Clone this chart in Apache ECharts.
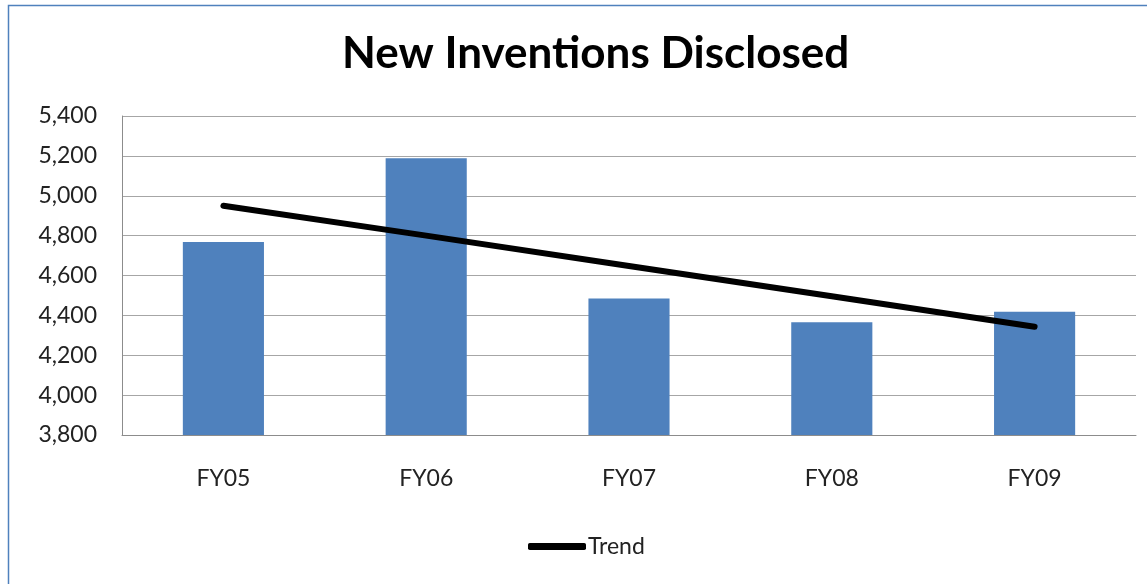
<!DOCTYPE html>
<html>
<head>
<meta charset="utf-8">
<script src="https://cdn.jsdelivr.net/npm/echarts@6/dist/echarts.min.js"></script>
<style>
  html, body { margin: 0; padding: 0; background: #fff; }
  #chart { width: 1147px; height: 584px; }
</style>
</head>
<body>
<div id="chart"></div>
<script>
// values
const categories = ['FY05', 'FY06', 'FY07', 'FY08', 'FY09'];
const disclosed = [4768, 5188, 4485, 4365, 4418];
const trend = [4950, 4800, 4648, 4496, 4343];
const yTicks = [3800, 4000, 4200, 4400, 4600, 4800, 5000, 5200, 5400];

const font = 'Lato, "Open Sans", sans-serif';

let chart = echarts.init(document.getElementById('chart'));

chart.setOption({
  animation: false,
  backgroundColor: '#fff',
  textStyle: { fontFamily: font },
  title: {
    text: 'New Inventions Disclosed',
    left: 342,
    top: 32,
    padding: 0,
    textStyle: { fontFamily: font, fontSize: 44, fontWeight: 'bold', color: '#000' }
  },
  // chart frame (blue border)
  graphic: [{
    type: 'rect',
    shape: { x: 8.5, y: 5.5, width: 1200, height: 700 },
    style: { fill: 'none', stroke: '#4f81bd', lineWidth: 1.5 },
    silent: true
  }],
  grid: { left: 122, right: 11, top: 116, bottom: 149 },
  legend: {
    data: [{ name: 'Trend', icon: 'roundRect' }],
    bottom: 21,
    left: 523,
    itemWidth: 58,
    itemHeight: 7,
    itemGap: 2,
    textStyle: { fontFamily: font, fontSize: 23, color: '#222', padding: [0, 0, 0, -3] }
  },
  xAxis: {
    type: 'category',
    data: categories,
    axisLine: { lineStyle: { color: '#8c8c8c', width: 1 } },
    axisTick: { show: false },
    axisLabel: { fontFamily: font, fontSize: 23, color: '#222', margin: 32 }
  },
  yAxis: {
    type: 'value',
    min: yTicks[0],
    max: yTicks[yTicks.length - 1],
    interval: 200,
    axisLine: { show: true, lineStyle: { color: '#8c8c8c', width: 1 } },
    axisTick: { show: false },
    splitLine: { lineStyle: { color: '#a6a6a6', width: 1 } },
    axisLabel: {
      fontFamily: font, fontSize: 23, color: '#222', margin: 25,
      formatter: v => v.toLocaleString('en-US')
    }
  },
  series: [
    {
      name: 'Disclosed',
      type: 'bar',
      data: disclosed,
      barWidth: '40%',
      itemStyle: { color: '#4f81bd' }
    },
    {
      name: 'Trend',
      type: 'line',
      data: trend,
      symbol: 'none',
      lineStyle: { color: '#000', width: 6, cap: 'round' },
      itemStyle: { color: '#000' },
      z: 5
    }
  ]
});
</script>
</body>
</html>
